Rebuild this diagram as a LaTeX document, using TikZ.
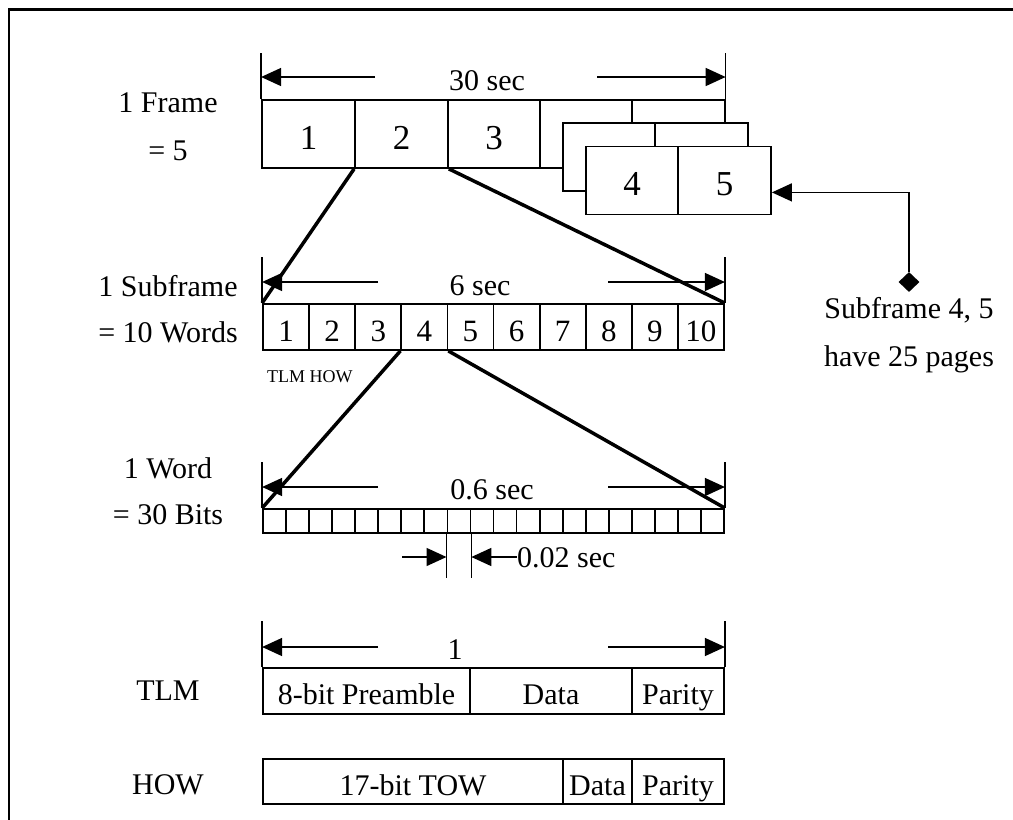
\documentclass[tikz,border=0pt]{standalone}
\usepackage{fontspec}
\setmainfont{Liberation Serif}
\usetikzlibrary{arrows.meta,shapes.geometric,calc}
\tikzset{
  cellbox/.style n args={2}{draw, line width=1.8pt, inner sep=0pt, minimum width=#1, minimum height=#2},
  bignum/.style={font=\fontsize{35}{40}\selectfont, text height=30.5pt, text depth=0pt},
  midnum/.style={font=\fontsize{31}{34}\selectfont, text height=29pt, text depth=0pt},
  txt/.style={font=\fontsize{30}{34}\selectfont, inner sep=0pt},
  celltxt/.style={font=\fontsize{30}{34}\selectfont, text height=27.5pt, text depth=0pt},
  smalltxt/.style={font=\fontsize{18}{20}\selectfont, inner sep=0pt},
  dimtick/.style={line width=1.5pt},
  dimarrow/.style={line width=1.5pt, -{Triangle[length=20pt,width=18pt]}},
  zoomline/.style={line width=3.5pt},
}
\begin{document}
\begin{tikzpicture}[x=1pt,y=-1pt]
\useasboundingbox (0,0) rectangle (1013,820);
\clip (0,0) rectangle (1013,820);
% outer frame
\draw[line width=2.5pt] (9,1100) -- (9,9.5) -- (1100,9.5);

% ---- left labels
\node[txt, anchor=base] (lf1) at (168,112) {1 Frame};
\node[txt, anchor=base] (lf2) at (168,160) {= 5};
\node[txt, anchor=base] (ls1) at (168,296) {1 Subframe};
\node[txt, anchor=base] (ls2) at (168,342) {= 10 Words};
\node[txt, anchor=base] (lw1) at (168,478) {1 Word};
\node[txt, anchor=base] (lw2) at (168,524) {= 30 Bits};
\node[txt, anchor=base] (ltlm) at (168,700) {TLM};
\node[txt, anchor=base] (lhow) at (168,794) {HOW};

% ---- frame row
\node[cellbox={93pt}{68pt}, bignum] (f1) at (308.5,134) {1};
\node[cellbox={93pt}{68pt}, bignum] (f2) at (401.5,134) {2};
\node[cellbox={92pt}{68pt}, bignum] (f3) at (494,134) {3};
% stacked subframes 4,5
\node[cellbox={92pt}{68pt}, line width=1.3pt] (a4) at (586,134) {};
\node[cellbox={93pt}{68pt}, line width=1.3pt] (a5) at (678.5,134) {};
\node[cellbox={92pt}{68pt}, fill=white] (b4) at (609,157) {};
\node[cellbox={93pt}{68pt}, fill=white] (b5) at (701.5,157) {};
\node[cellbox={92pt}{68pt}, fill=white, bignum] (c4) at (632,180.5) {4};
\node[cellbox={93pt}{68pt}, fill=white, bignum] (c5) at (724.5,180.5) {5};
% dimension 30 sec
\draw[dimtick] (f1.north west) -- ++(0,-46);
\draw[dimtick] (a5.north east) -- ++(0,-46);
\coordinate (g1l) at (375,77);
\coordinate (g1r) at (597,77);
\draw[dimarrow] (g1l) -- (g1l -| f1.west);
\draw[dimarrow] (g1r) -- (g1r -| a5.east);
\node[txt, anchor=base] (d1) at (487,90) {30 sec};

% ---- subframe row
\foreach \i in {1,...,10}{
  \node[cellbox={46.1pt}{46pt}, midnum] (s\i) at ({263+(\i-0.5)*46.1},327) {\i};
}
\draw[dimtick] (s1.north west) -- ++(0,-46);
\draw[dimtick] (s10.north east) -- ++(0,-46);
\coordinate (g2l) at (378,282);
\coordinate (g2r) at (608,282);
\draw[dimarrow] (g2l) -- (g2l -| s1.west);
\draw[dimarrow] (g2r) -- (g2r -| s10.east);
\node[txt, anchor=base] (d2) at (480,295) {6 sec};
\node[smalltxt, anchor=base west] (tlmhow) at (267,382) {TLM HOW};

% ---- word row
\foreach \i in {1,...,20}{
  \node[cellbox={23.05pt}{24pt}] (w\i) at ({263+(\i-0.5)*23.05},521) {};
}
\draw[dimtick] (w1.north west) -- ++(0,-46);
\draw[dimtick] (w20.north east) -- ++(0,-46);
\coordinate (g3l) at (378,487);
\coordinate (g3r) at (608,487);
\draw[dimarrow] (g3l) -- (g3l -| w1.west);
\draw[dimarrow] (g3r) -- (g3r -| w20.east);
\node[txt, anchor=base] (d3) at (492,499) {0.6 sec};
% 0.02 sec
\draw[dimtick] (w9.south west) -- ++(0,44);
\draw[dimtick] (w9.south east) -- ++(0,44);
\coordinate (p1) at (402,557);
\coordinate (p2) at (517,557);
\draw[dimarrow] (p1) -- (p1 -| w9.west);
\draw[dimarrow] (p2) -- (p2 -| w9.east);
\node[txt, anchor=base west] (d4) at (517,567) {0.02 sec};

% ---- zoom lines
\draw[zoomline] (f2.south west) -- (s1.north west);
\draw[zoomline] (f2.south east) -- (s10.north east);
\draw[zoomline] (s4.south west) -- (w1.north west);
\draw[zoomline] (s4.south east) -- (w20.north east);

% ---- TLM row
\node[cellbox={207pt}{46pt}, celltxt] (t1) at (366.5,691) {8-bit Preamble};
\node[cellbox={162pt}{46pt}, celltxt] (t2) at (551,691) {Data};
\node[cellbox={92pt}{46pt}, celltxt] (t3) at (678,691) {Parity};
\draw[dimtick] (t1.north west) -- ++(0,-46);
\draw[dimtick] (t3.north east) -- ++(0,-46);
\coordinate (g4l) at (378,647);
\coordinate (g4r) at (608,647);
\draw[dimarrow] (g4l) -- (g4l -| t1.west);
\draw[dimarrow] (g4r) -- (g4r -| t3.east);
\node[txt, anchor=base] (d5) at (455,659) {1};

% ---- HOW row
\node[cellbox={300pt}{45pt}, celltxt] (h1) at (413,781.5) {17-bit TOW};
\node[cellbox={69pt}{45pt}, celltxt] (h2) at (597.5,781.5) {Data};
\node[cellbox={92pt}{45pt}, celltxt] (h3) at (678,781.5) {Parity};

% ---- callout
\node[diamond, fill=black, inner sep=0pt, minimum width=21pt, minimum height=20pt] (dm) at (909,282) {};
\draw[dimarrow] (dm.north) |- ([yshift=23pt]c5.south east);
\node[txt, anchor=base] (n1) at (909,318) {Subframe 4, 5};
\node[txt, anchor=base] (n2) at (909,366) {have 25 pages};
\end{tikzpicture}
\end{document}
